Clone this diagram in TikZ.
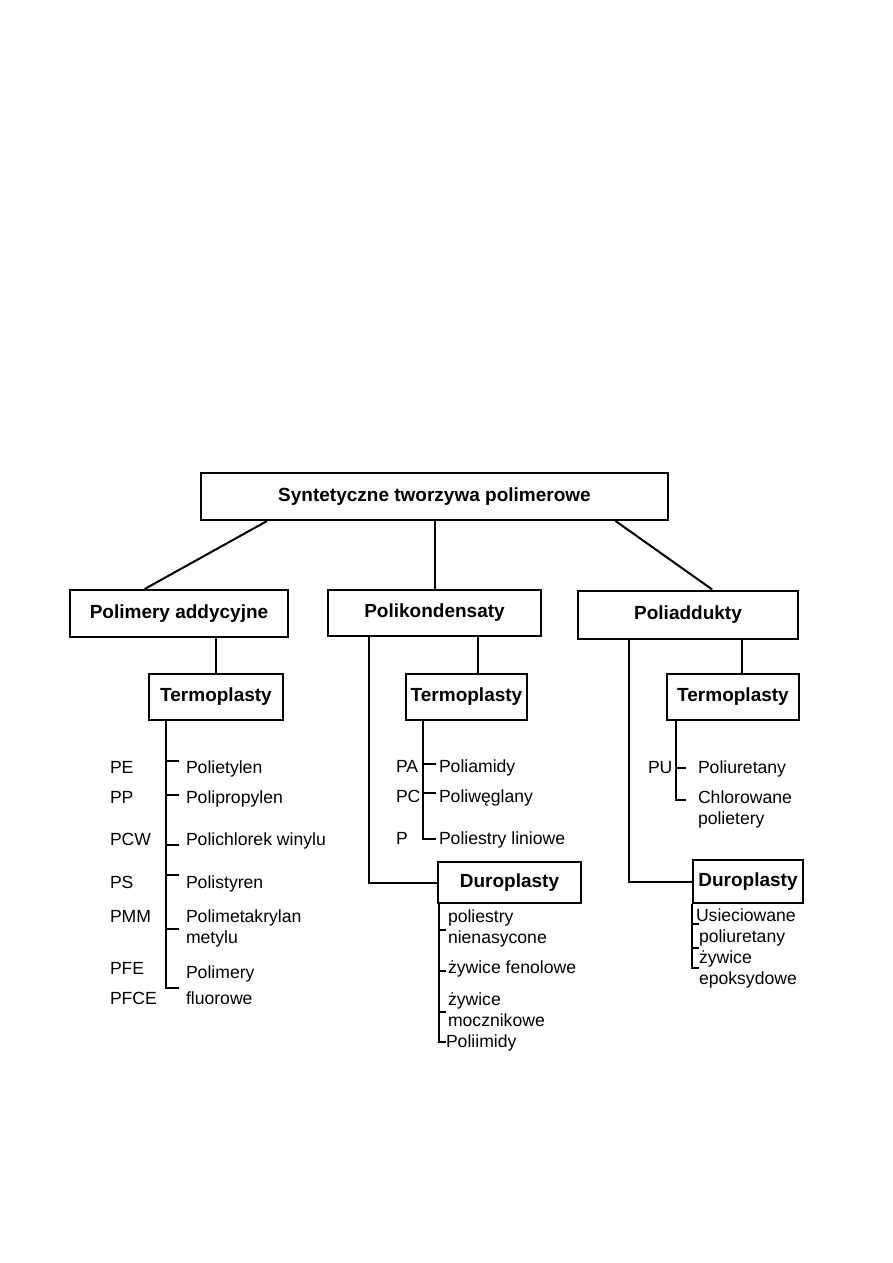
\documentclass[tikz,border=0pt]{standalone}
\usepackage{fontspec}
\setmainfont{Liberation Sans}
\usetikzlibrary{calc}

\begin{document}
\begin{tikzpicture}[x=0.5pt,y=-0.5pt,line width=1pt,
  box/.style={draw,inner sep=0pt,font=\fontsize{9.5}{11}\selectfont\bfseries},
  lbl/.style={anchor=base west,inner sep=0pt,font=\fontsize{8.8}{11}\selectfont},
  ]
\useasboundingbox (0,0) rectangle (893,1263);
% boxes
\node[box,minimum width=233.5pt,minimum height=23.5pt] (top) at (434.5,496.5) {Syntetyczne tworzywa polimerowe};
\node[box,minimum width=109pt,minimum height=23.5pt] (pa) at (179,613.5) {Polimery addycyjne};
\node[box,minimum width=106.5pt,minimum height=23pt] (pk) at (434.5,612.5) {Polikondensaty};
\node[box,minimum width=110pt,minimum height=24pt] (pd) at (688,614.5) {Poliaddukty};
\node[box,minimum width=67pt,minimum height=23pt] (t1) at (216,697) {Termoplasty};
\node[box,minimum width=60.5pt,minimum height=23pt] (t2) at (466.5,697) {Termoplasty};
\node[box,minimum width=66pt,minimum height=23pt] (t3) at (733,697) {Termoplasty};
\node[box,minimum width=71.5pt,minimum height=20.5pt] (d2) at (509.5,882.5) {Duroplasty};
\node[box,minimum width=55pt,minimum height=21.5pt] (d3) at (748,881.5) {Duroplasty};
% links
\draw ($(top.south west)!.143!(top.south east)$) -- ($(pa.north west)!.344!(pa.north east)$);
\draw (top.south) -- (top.south |- pk.north);
\draw ($(top.south west)!.886!(top.south east)$) -- ($(pd.north west)!.609!(pd.north east)$);
\draw (t1.north) -- (t1.north |- pa.south);
\coordinate (t2in) at ($(t2.north west)!.595!(t2.north east)$);
\draw (t2in) -- (t2in |- pk.south);
\coordinate (t3in) at ($(t3.north west)!.568!(t3.north east)$);
\draw (t3in) -- (t3in |- pd.south);
\draw (d2.west) -| ($(pk.south west)!.197!(pk.south east)$);
\draw (d3.west) -| ($(pd.south west)!.236!(pd.south east)$);
% brackets
\coordinate (s1) at ($(t1.south west)+(18,0)$);
\draw (s1) |- ($(s1)+(13,267)$);
\foreach \ty in {40,74,124,154,208} \draw ($(s1)+(0,\ty)$) -- ++(13,0);
\coordinate (s2) at ($(t2.south west)+(18,0)$);
\draw (s2) |- ($(s2)+(13,118)$);
\foreach \ty in {43,72} \draw ($(s2)+(0,\ty)$) -- ++(13,0);
\coordinate (s3) at ($(d2.south west)+(2,0)$);
\draw (s3) |- ($(s3)+(7,138)$);
\foreach \ty in {26,67,108} \draw ($(s3)+(0,\ty)$) -- ++(7,0);
\coordinate (s4) at ($(t3.south west)+(10,0)$);
\draw (s4) |- ($(s4)+(10,79)$);
\draw ($(s4)+(0,47)$) -- ++(10,0);
\coordinate (s5) at (d3.south west);
\draw (s5) |- ($(s5)+(7,64)$);
\foreach \ty in {20,44} \draw ($(s5)+(0,\ty)$) -- ++(7,0);
% left list
\node[lbl] (pe) at (109,773) {PE};
\node[lbl] (pp) at (109,803) {PP};
\node[lbl] (pcw) at (109,845) {PCW};
\node[lbl] (ps) at (109,888) {PS};
\node[lbl] (pmm) at (109,922) {PMM};
\node[lbl] (pfe) at (109,974) {PFE};
\node[lbl] (pfce) at (109,1004) {PFCE};
\node[lbl] (pet) at (185,773) {Polietylen};
\node[lbl] (ppr) at (185,803) {Polipropylen};
\node[lbl] (pch) at (185,845) {Polichlorek winylu};
\node[lbl] (pst) at (185,888) {Polistyren};
\node[lbl] (pmk) at (185,922) {Polimetakrylan};
\node[lbl] (pmk2) at (185,943) {metylu};
\node[lbl] (pfl) at (185,978) {Polimery};
\node[lbl] (pfl2) at (185,1004) {fluorowe};
% middle list
\node[lbl] (pam) at (395,772) {PA};
\node[lbl] (pc) at (395,802) {PC};
\node[lbl] (p) at (395,844) {P};
\node[lbl] (pami) at (438,772) {Poliamidy};
\node[lbl] (pwe) at (438,802) {Poliwęglany};
\node[lbl] (pli) at (438,844) {Poliestry liniowe};
\node[lbl] (pnn) at (447,922) {poliestry};
\node[lbl] (pnn2) at (447,943) {nienasycone};
\node[lbl] (zfe) at (447,973) {żywice fenolowe};
\node[lbl] (zmo) at (447,1005) {żywice};
\node[lbl] (zmo2) at (447,1026) {mocznikowe};
\node[lbl] (pim) at (445,1047) {Poliimidy};
% right list
\node[lbl] (pu) at (647,773) {PU};
\node[lbl] (pur) at (697,773) {Poliuretany};
\node[lbl] (chl) at (697,803) {Chlorowane};
\node[lbl] (chl2) at (697,824) {polietery};
\node[lbl] (usi) at (695,921) {Usieciowane};
\node[lbl] (pol) at (698,942) {poliuretany};
\node[lbl] (zep) at (698,963) {żywice};
\node[lbl] (zep2) at (698,984) {epoksydowe};
\end{tikzpicture}
\end{document}
